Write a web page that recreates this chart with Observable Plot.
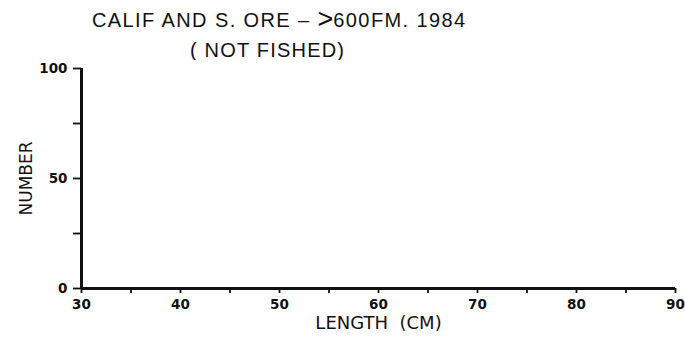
<!DOCTYPE html>
<html>
<head>
<meta charset="utf-8">
<script src="https://cdn.jsdelivr.net/npm/d3@7"></script>
<script src="https://cdn.jsdelivr.net/npm/@observablehq/plot@0.6"></script>
<style>
  html, body { margin: 0; padding: 0; background: #fff; }
  #wrap { position: relative; width: 685px; height: 341px; overflow: hidden; }
  .title { position: absolute; font-family: "Liberation Sans", Arial, sans-serif; font-size: 20px; color: #111; white-space: nowrap; line-height: 1; }
  .big { font-size: 27px; line-height: 0; position: relative; top: 1px; letter-spacing: 0; }
  #chart { position: absolute; left: 0; top: 60px; }
</style>
</head>
<body>
<div id="wrap">
  <div class="title" id="t1" style="left:92px; top:10px; letter-spacing:1.4px;">CALIF AND S. ORE – <span class="big">&gt;</span>600FM. 1984</div>
  <div class="title" id="t2" style="left:190px; top:40px; letter-spacing:1.2px;">( NOT FISHED)</div>
  <div id="chart"></div>
</div>
<script>
// Data: this stratum was not fished, so there are no length counts.
const lengths = [];          // length (cm) of each bar
const counts = [];           // number at each length
const xDomain = [30, 90];
const yDomain = [0, 100];
const xMajorTicks = [30, 40, 50, 60, 70, 80, 90];
const xMinorTicks = [30, 35, 40, 45, 50, 55, 60, 65, 70, 75, 80, 85, 90];
const yMajorTicks = [0, 50, 100];
const yMinorTicks = [0, 25, 50, 75, 100];
const xLabel = "LENGTH  (CM)";
const yLabel = "NUMBER";

const bars = lengths.map((l, i) => ({length: l, count: counts[i]}));
const tickFont = "'DejaVu Sans', sans-serif";

const chart = Plot.plot({
  width: 685,
  height: 281,
  marginLeft: 81,
  marginRight: 10,
  marginTop: 8,
  marginBottom: 53,
  style: {fontFamily: tickFont, fontSize: "13px", color: "#111", background: "#fff"},
  x: {domain: xDomain},
  y: {domain: yDomain},
  marks: [
    Plot.rectY(bars, {x1: d => d.length - 0.5, x2: d => d.length + 0.5, y: "count", fill: "#111"}),
    Plot.axisX({ticks: xMinorTicks, tickSize: 5, tickFormat: () => "", strokeWidth: 1.8, label: null}),
    Plot.axisX({ticks: xMajorTicks, tickSize: 0, tickPadding: 11, fontWeight: "bold", fontSize: 13.5, label: null}),
    Plot.axisY({ticks: yMinorTicks, tickSize: 8, tickFormat: () => "", strokeWidth: 1.8, label: null}),
    Plot.axisY({ticks: yMajorTicks, tickSize: 0, tickPadding: 14, fontWeight: "bold", fontSize: 13.5, label: null}),
    Plot.ruleX([xDomain[0]], {y1: yDomain[0], y2: yDomain[1], strokeWidth: 3, stroke: "#111"}),
    Plot.ruleY([yDomain[0]], {x1: xDomain[0], x2: xDomain[1], strokeWidth: 3, stroke: "#111"}),
    Plot.text([xLabel], {frameAnchor: "bottom", dy: 40, fontSize: 18, fill: "#111", text: d => d, fontFamily: "'DejaVu Sans', sans-serif", letterSpacing: "1.5px"}),
    Plot.text([yLabel], {frameAnchor: "left", dx: -55, rotate: -90, textAnchor: "middle", fontSize: 17, fill: "#111", text: d => d, fontFamily: "'DejaVu Sans', sans-serif", letterSpacing: "1.3px"})
  ]
});
document.getElementById("chart").appendChild(chart);
</script>
</body>
</html>
